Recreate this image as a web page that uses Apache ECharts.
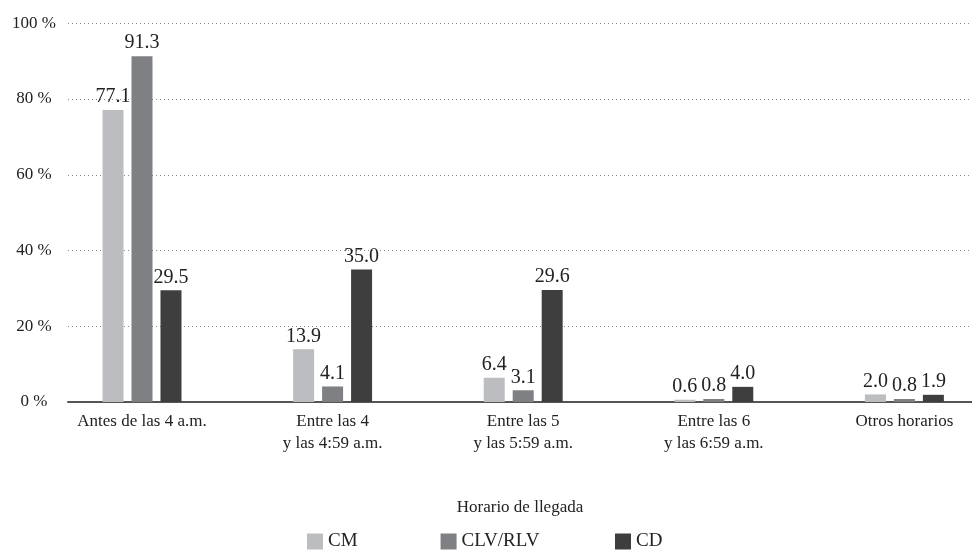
<!DOCTYPE html>
<html><head><meta charset="utf-8">
<script src="https://cdn.jsdelivr.net/npm/echarts@6/dist/echarts.min.js"></script>
<style>html,body{margin:0;padding:0;background:#fff;overflow:hidden}#c{width:1000px;height:559px}</style>
</head><body><div id="c"></div>
<script>
const categories = ['Antes de las 4 a.m.', 'Entre las 4\ny las 4:59 a.m.', 'Entre las 5\ny las 5:59 a.m.', 'Entre las 6\ny las 6:59 a.m.', 'Otros horarios'];
const seriesNames = ['CM', 'CLV/RLV', 'CD'];
const cmValues = [77.1, 13.9, 6.4, 0.6, 2.0];
const clvValues = [91.3, 4.1, 3.1, 0.8, 0.8];
const cdValues = [29.5, 35.0, 29.6, 4.0, 1.9];
const yTicks = [0, 20, 40, 60, 80, 100];

const font = 'Liberation Serif';
const colors = ['#bcbdc0', '#7f8083', '#3e3e3e'];
const chart = echarts.init(document.getElementById('c'));
function bar(name, data, color) {
  return {
    name, type: 'bar', data, xAxisIndex: 1, yAxisIndex: 1,
    barWidth: 21, barGap: '38%',
    itemStyle: { color },
    label: { show: true, position: 'top', distance: 3, color: '#222', fontFamily: font, fontSize: 20,
      formatter: p => p.value.toFixed(1) }
  };
}
const legendBase = { bottom: 3, itemWidth: 16, itemHeight: 16, itemGap: 83, icon: 'rect',
  textStyle: { color: '#222', fontFamily: font, fontSize: 19 } };
chart.setOption({
  animation: false,
  textStyle: { fontFamily: font },
  grid: [
    { left: 68, right: 28, top: 23.25, bottom: 157 },
    { left: 46.7, right: 0.3, top: 23.25, bottom: 157 }
  ],
  xAxis: [
    { type: 'category', gridIndex: 0, data: categories, axisTick: { show: false }, axisLabel: { show: false },
      axisLine: { lineStyle: { color: '#555', width: 2 } },
      name: 'Horario de llegada', nameLocation: 'middle', nameGap: 97,
      nameTextStyle: { color: '#222', fontFamily: font, fontSize: 17 } },
    { type: 'category', gridIndex: 1, data: categories, axisTick: { show: false }, axisLine: { show: false },
      axisLabel: { color: '#222', fontFamily: font, fontSize: 17, lineHeight: 22, margin: 9, interval: 0 } }
  ],
  yAxis: [
    { type: 'value', gridIndex: 0, min: yTicks[0], max: yTicks[yTicks.length - 1], interval: 20,
      axisLine: { show: false }, axisTick: { show: false },
      axisLabel: { formatter: '{value} %', color: '#222', fontFamily: font, fontSize: 17, align: 'center', margin: 34 },
      splitLine: { lineStyle: { color: '#888', type: [1, 3], width: 1 } } },
    { type: 'value', gridIndex: 1, min: 0, max: 100, show: false, splitLine: { show: false } }
  ],
  legend: [
    Object.assign({}, legendBase, { data: seriesNames.slice(0, 2), left: 302 }),
    Object.assign({}, legendBase, { data: seriesNames.slice(2), left: 610 })
  ],
  series: [
    bar(seriesNames[0], cmValues, colors[0]),
    bar(seriesNames[1], clvValues, colors[1]),
    bar(seriesNames[2], cdValues, colors[2])
  ]
});
</script></body></html>
